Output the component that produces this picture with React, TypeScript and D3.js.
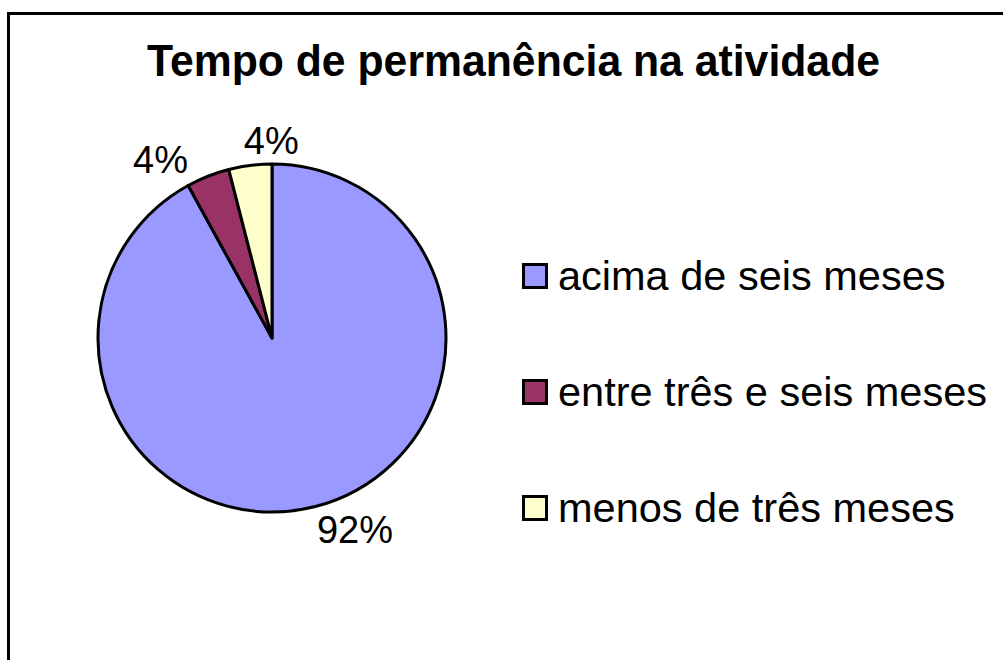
import React from "react";
import * as d3 from "d3";

const title = "Tempo de permanência na atividade";
const categories = ["acima de seis meses", "entre três e seis meses", "menos de três meses"];
const values = [92, 4, 4];
const colors = ["#9999FF", "#993366", "#FFFFCC"];
const labelNudges: [number, number][] = [[32, -7], [-36, 13], [25, 6]];

const W = 1003, H = 660;
const cx = 272, cy = 338, R = 174;
const font = "'Liberation Sans', Arial, sans-serif";

export default function App() {
  const pie = d3.pie<number>().sort(null).value((d) => d);
  const arcs = pie(values);
  const arc = d3.arc<d3.PieArcDatum<number>>().innerRadius(0).outerRadius(R);
  const labelArc = d3.arc<d3.PieArcDatum<number>>().innerRadius(R + 31).outerRadius(R + 31);
  const total = d3.sum(values);
  const legendY = d3.scalePoint<string>().domain(categories).range([276, 508]);

  return (
    <svg width={W} height={H} style={{ position: "absolute", left: 0, top: 0, background: "#fff" }}>
      <rect x={8.5} y={13.5} width={W + 20} height={H + 20} fill="#fff" stroke="#000" strokeWidth={3} />
      <text x={513.5} y={76} textAnchor="middle" fontFamily={font} fontWeight="bold" fontSize={44}
        textLength={733} lengthAdjust="spacingAndGlyphs">{title}</text>
      <g transform={`translate(${cx},${cy})`}>
        {arcs.map((a, i) => (
          <path key={i} d={arc(a) as string} fill={colors[i]} stroke="#000" strokeWidth={3} strokeLinejoin="round" />
        ))}
        {arcs.map((a, i) => {
          const [x, y] = labelArc.centroid(a);
          return (
            <text key={"l" + i} x={x + labelNudges[i][0]} y={y + labelNudges[i][1]} textAnchor="middle"
              dominantBaseline="central" fontFamily={font} fontSize={38}>
              {d3.format(".0%")(a.data / total)}
            </text>
          );
        })}
      </g>
      {categories.map((c, i) => {
        const y = legendY(c) as number;
        return (
          <g key={c}>
            <rect x={523.5} y={y - 11.5} width={23} height={23} fill={colors[i]} stroke="#000" strokeWidth={3} />
            <text x={558} y={y + 14} fontFamily={font} fontSize={41.5}>{c}</text>
          </g>
        );
      })}
    </svg>
  );
}
